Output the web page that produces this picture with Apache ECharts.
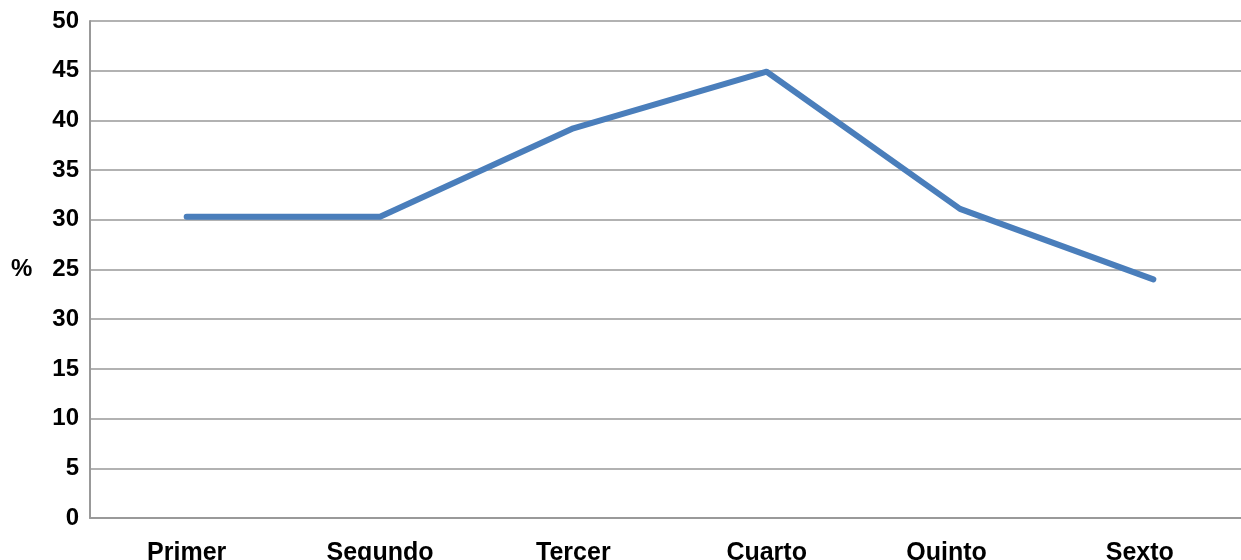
<!DOCTYPE html>
<html>
<head>
<meta charset="utf-8">
<style>
  html, body { margin: 0; padding: 0; background: #fff; }
  #chart { width: 1241px; height: 560px; }
</style>
<script src="https://cdn.jsdelivr.net/npm/echarts@6/dist/echarts.min.js"></script>
</head>
<body>
<div id="chart"></div>
<script>
// Categories along the x axis
const categories = ['Primer', 'Segundo', 'Tercer', 'Cuarto', 'Quinto', 'Sexto'];
// Percentage per category
const values = [30.3, 30.3, 39.2, 44.9, 31.1, 24.0];
// Labels printed at each y tick, from 0 up to 50
const yTickLabels = ['0', '5', '10', '15', '30', '25', '30', '35', '40', '45', '50'];

const chart = echarts.init(document.getElementById('chart'), null, { renderer: 'canvas' });

const FONT = 'Liberation Sans, Arial, sans-serif';
const labelFont = { fontFamily: FONT, fontWeight: 'bold', fontSize: 25, color: '#000' };

chart.setOption({
  animation: false,
  backgroundColor: '#fff',
  // the plot area runs past the right edge of the canvas
  grid: { left: 90, top: 21, width: 1160, bottom: 42, containLabel: false, outerBoundsMode: 'none' },
  xAxis: {
    type: 'category',
    data: categories,
    boundaryGap: true,
    axisLine: { show: true, lineStyle: { color: '#999', width: 2 } },
    axisTick: { show: false },
    axisLabel: Object.assign({
      margin: 23,
      // the last two labels sit a little left of their category centre
      formatter: function (v, i) { return i >= 4 ? '{s|' + v + '}' : '{n|' + v + '}'; },
      rich: {
        n: Object.assign({}, labelFont),
        s: Object.assign({ padding: [0, 27, 0, 0] }, labelFont)
      }
    }, labelFont),
    splitLine: { show: false }
  },
  yAxis: {
    type: 'value',
    min: 0,
    max: 50,
    interval: 5,
    axisLine: { show: true, lineStyle: { color: '#999', width: 2 } },
    axisTick: { show: false },
    axisLabel: {
      margin: 11,
      fontFamily: FONT, fontWeight: 'bold', fontSize: 24, color: '#000',
      formatter: function (v) { return yTickLabels[Math.round(v / 5)]; }
    },
    splitLine: { show: true, lineStyle: { color: '#999', width: 1.5 } }
  },
  graphic: [{
    type: 'text',
    left: 11,
    top: 257,
    style: { text: '%', font: 'bold 24px "Liberation Sans", Arial, sans-serif', fill: '#000' }
  }],
  series: [{
    type: 'line',
    data: values,
    showSymbol: false,
    symbol: 'none',
    lineStyle: { color: '#4a7ebb', width: 6, cap: 'round', join: 'round' },
    itemStyle: { color: '#4a7ebb' }
  }]
});
</script>
</body>
</html>
